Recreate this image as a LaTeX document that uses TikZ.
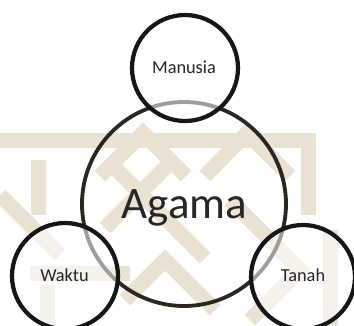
\documentclass[tikz,border=0pt]{standalone}
\usepackage{fontspec}
\setmainfont{Carlito}
\definecolor{wm}{HTML}{EAE2D3}
\definecolor{bigc}{HTML}{2B261F}
\definecolor{smallc}{HTML}{161616}
\definecolor{txt}{HTML}{262626}
\tikzset{
  band/.style={draw=wm, line width=15pt, line join=miter, line cap=butt},
  bigcircle/.style={circle, draw=bigc, line width=3.8pt, inner sep=0pt},
  smallcircle/.style={circle, draw=smallc, line width=4.2pt, fill=white, fill opacity=0.55, draw opacity=1, inner sep=0pt},
  lbl/.style={anchor=base, text=txt, inner sep=0pt, text opacity=1},
}
\begin{document}
\begin{tikzpicture}[x=1pt,y=-1pt]
\useasboundingbox (0,0) rectangle (354,325);
\fill[white] (0,0) rectangle (354,325);
\clip (0,0) rectangle (354,325);
% watermark (approximation)
\draw[band] (0,140) -- (308,140) -- (308,215);
\draw[band] (100,176) -- (143,133) -- (186,176);
\draw[band] (205,176) -- (247,133) -- (290,176);
\draw[band] (110,163) -- (205,258);
\draw[band] (173,160) -- (105,228);
\draw[band] (0,195) -- (60,255);
\draw[band] (38,160) -- (38,215);
\draw[band] (30,273) -- (130,273);
\draw[band] (47,285) -- (47,325);
\draw[band] (125,300) -- (165,260) -- (215,310);
\draw[band] (230,200) -- (300,270) -- (250,320);
\draw[band] (330,230) -- (330,325);
% circles
\node[bigcircle, minimum size=204pt] (agama) at (184,204) {};
\node[smallcircle, minimum size=106pt] (manusia) at (185,68) {};
\node[smallcircle, minimum size=106pt] (waktu) at (65,276) {};
\node[smallcircle, minimum size=104pt] (tanah) at (303,277) {};
% labels
\node[lbl, font=\fontsize{45}{50}\selectfont] (tagama) at (184.5,218) {Agama};
\node[lbl, font=\fontsize{18.3}{20}\selectfont] (tmanusia) at (184,73) {Manusia};
\node[lbl, font=\fontsize{18.3}{20}\selectfont] (twaktu) at (64.5,281) {Waktu};
\node[lbl, font=\fontsize{18.3}{20}\selectfont] (ttanah) at (303,281) {Tanah};
\end{tikzpicture}
\end{document}
